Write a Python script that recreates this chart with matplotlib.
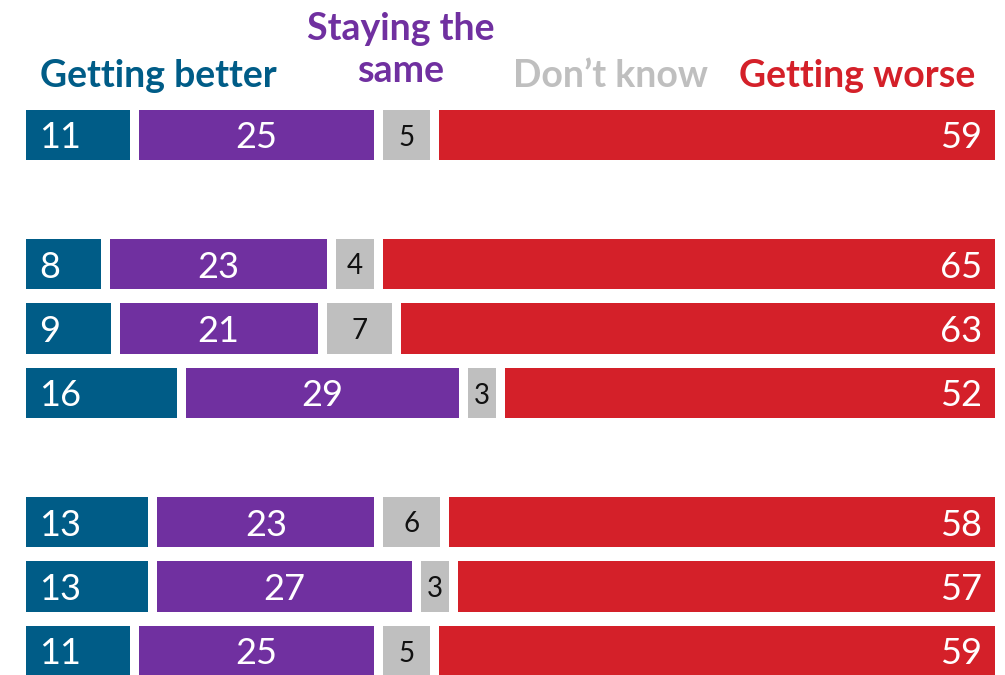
import numpy as np
import matplotlib.pyplot as plt

# data (percent); rows with None are blank spacer rows
better = [11, None, 8, 9, 16, None, 13, 13, 11]
same = [25, None, 23, 21, 29, None, 23, 27, 25]
dont_know = [5, None, 4, 7, 3, None, 6, 3, 5]
worse = [59, None, 65, 63, 52, None, 58, 57, 59]

categories = ["Getting better", "Staying the\nsame", "Don\u2019t know", "Getting worse"]
colors = ["#005C87", "#7030A0", "#BFBFBF", "#D42029"]
text_colors = ["white", "white", "#111111", "white"]

gap = 0.95
px_per_unit = 969 / (100 + 3 * gap)

fig = plt.figure(figsize=(10.05, 6.75), dpi=100)
ax = fig.add_axes([0, 0, 1, 1])
ax.set_xlim(-26 / px_per_unit, 100 + 3 * gap + 10 / px_per_unit)
ax.set_ylim((675 - 135) / 64.5, -135 / 64.5)
ax.axis('off')

series = [better, same, dont_know, worse]
for r in range(len(better)):
    if better[r] is None:
        continue
    left = 0
    for i, s in enumerate(series):
        v = s[r]
        ax.barh(r, v, left=left, height=0.78, color=colors[i], edgecolor='none')
        if i == 0:
            ax.text(left + 1.4, r, str(v), ha='left', va='center_baseline',
                    color=text_colors[i], fontsize=26, family='Lato')
        elif i == 3:
            ax.text(left + v - 1.35, r, str(v), ha='right', va='center_baseline',
                    color=text_colors[i], fontsize=26, family='Lato')
        elif i == 2:
            ax.text(left + v / 2, r, str(v), ha='center', va='center_baseline',
                    color=text_colors[i], fontsize=20, family='Lato')
        else:
            ax.text(left + v / 2, r, str(v), ha='center', va='center_baseline',
                    color=text_colors[i], fontsize=26, family='Lato')
        left += v + gap

# headers
header_x = [158, 401, 610, 857]
header_y = [76, 50, 76, 76]
for name, c, hx, hy in zip(categories, colors, header_x, header_y):
    ax.text((hx - 26) / px_per_unit, (hy - 135) / 64.5, name, ha='center', va='center',
            color=c, fontsize=27, fontweight='bold', family='Lato', linespacing=1.3)

fig.savefig('out.png', dpi=100)
